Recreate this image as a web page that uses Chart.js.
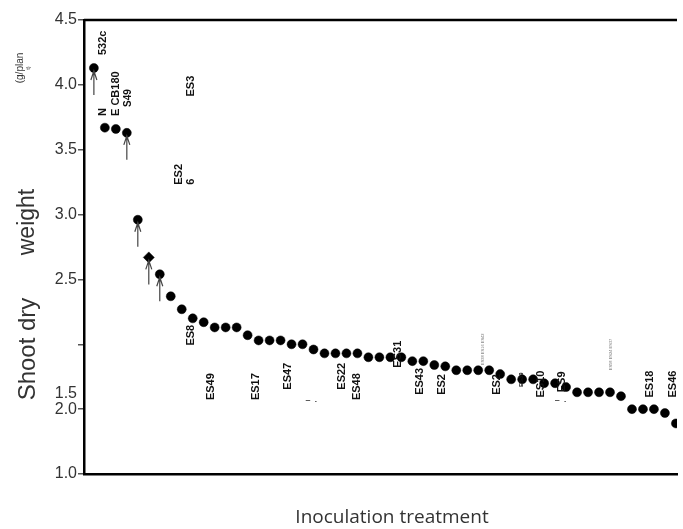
<!DOCTYPE html>
<html>
<head>
<meta charset="utf-8">
<script src="https://cdn.jsdelivr.net/npm/chart.js@4.4.1/dist/chart.umd.min.js"></script>
<style>
  html, body { margin: 0; padding: 0; background: #fff; }
  #wrap { width: 683px; height: 529px; }
</style>
</head>
<body>
<div id="wrap"><canvas id="shootChart" width="683" height="529"></canvas></div>
<script>
// shoot dry weight per inoculation treatment, ranked high to low
let shootWeight = [4.13, 3.67, 3.66, 3.63, 2.96, 2.67, 2.54, 2.37, 2.27, 2.20,
    2.17, 2.13, 2.13, 2.13, 2.07, 2.03, 2.03, 2.03, 2.00, 2.00,
    1.96, 1.93, 1.93, 1.93, 1.93, 1.90, 1.90, 1.90, 1.90, 1.87,
    1.87, 1.84, 1.83, 1.80, 1.80, 1.80, 1.80, 1.77, 1.73, 1.73,
    1.73, 1.70, 1.70, 1.67, 1.63, 1.63, 1.63, 1.63, 1.60, 1.50,
    1.50, 1.50, 1.47, 1.39];

let yTicks = [1.0, 1.5, 2.0, 2.5, 3.0, 3.5, 4.0, 4.5];
let yTickText = [['1.0'], ['1.5', '2.0', ''], [''], ['2.5'], ['3.0'], ['3.5'], ['4.0'], ['4.5']];

// treatments marked with an arrow
let arrowIdx = [0, 3, 4, 5, 6];

// strain names written next to the points
let tagText = ['532c', 'N', 'E CB180', 'S49', 'ES3', 'ES2', '6', 'ES8', 'ES49', 'ES17',
    'ES47', 'ES22', 'ES48', 'ES31', 'ES43', 'ES2', 'ES2', 'ES39', 'ES10', 'ES9', 'ES18', 'ES46'];
let tagIdx = [0.81, 0.81, 1.98, 3.15, 8.82, 7.74, 8.82, 8.82, 10.62, 14.75,
    17.63, 22.58, 23.93, 27.71, 29.69, 31.67, 36.71, 38.96, 40.67, 42.65, 50.65, 52.72];
let tagVal = [4.23, 3.76, 3.76, 3.83, 3.91, 3.23, 3.23, 1.99, 1.57, 1.57,
    1.65, 1.65, 1.57, 1.82, 1.61, 1.61, 1.61, 1.67, 1.59, 1.63, 1.59, 1.59];
let tagSize = [11, 11, 11, 10, 11, 11, 11, 11, 11, 11,
    11, 11, 11, 11, 11, 11, 11, 6, 11, 11, 11, 11];

// the very small stacked names
let tinyText = ['ES38 ES16 ES42', 'ES58 ES24 ES37'];
let tinyIdx = [35.45, 47.05];
let tinyVal = [1.84, 1.80];

let points = shootWeight.map((v, i) => ({ x: i, y: v }));
let pointShapes = shootWeight.map((v, i) => i === 5 ? 'rectRot' : 'circle');
let pointSizes = shootWeight.map((v, i) => i === 5 ? 5.5 : 4.5);

let extras = {
    id: 'extras',
    afterDatasetsDraw(chart) {
        let c = chart.ctx;
        let xs = chart.scales.x;
        let ys = chart.scales.y;
        let area = chart.chartArea;

        c.save();
        // top frame line
        c.strokeStyle = '#000';
        c.lineWidth = 2.5;
        c.beginPath();
        c.moveTo(area.left, area.top);
        c.lineTo(area.right, area.top);
        c.stroke();

        // arrows under the marked points
        c.strokeStyle = '#444';
        c.lineWidth = 1.2;
        arrowIdx.forEach(i => {
            let px = xs.getPixelForValue(i);
            let py = ys.getPixelForValue(shootWeight[i]);
            c.beginPath();
            c.moveTo(px, py + 3);
            c.lineTo(px, py + 27);
            c.moveTo(px - 3, py + 12);
            c.lineTo(px, py + 3);
            c.lineTo(px + 3, py + 12);
            c.stroke();
        });

        // rotated strain names
        c.fillStyle = '#111';
        c.textAlign = 'left';
        c.textBaseline = 'middle';
        tagText.forEach((t, k) => {
            c.save();
            c.translate(xs.getPixelForValue(tagIdx[k]), ys.getPixelForValue(tagVal[k]));
            c.rotate(-Math.PI / 2);
            c.font = 'bold ' + tagSize[k] + 'px "Liberation Sans", Arial, sans-serif';
            c.fillText(t, 0, 0);
            c.restore();
        });
        c.fillStyle = '#777';
        tinyText.forEach((t, k) => {
            c.save();
            c.translate(xs.getPixelForValue(tinyIdx[k]), ys.getPixelForValue(tinyVal[k]));
            c.rotate(-Math.PI / 2);
            c.font = '4px "Liberation Sans", Arial, sans-serif';
            c.fillText(t, 0, 0);
            c.restore();
        });

        // stray marks below a few names
        c.fillStyle = '#222';
        c.font = 'bold 8px "Liberation Sans", Arial, sans-serif';
        c.textAlign = 'center';
        c.fillText('\u2012  .', xs.getPixelForValue(19.8), ys.getPixelForValue(1.57));
        c.fillText('\u2012  .', xs.getPixelForValue(42.5), ys.getPixelForValue(1.57));

        // y title, broken over several pieces
        c.fillStyle = '#333';
        c.textAlign = 'center';
        let ytitle = [['Shoot dry', 24, 28, 349], ['weight', 23, 28, 222], ['(g/plan', 10, 20, 68], ['t)', 6, 28, 68]];
        ytitle.forEach(p => {
            c.save();
            c.translate(p[2], p[3]);
            c.rotate(-Math.PI / 2);
            c.font = p[1] + 'px "Liberation Sans", Arial, sans-serif';
            c.fillText(p[0], 0, 0);
            c.restore();
        });

        // x title
        c.font = '19px "Open Sans", sans-serif';
        c.fillText('Inoculation treatment', 392, 518);
        c.restore();
    }
};

let ctx = document.getElementById('shootChart').getContext('2d');
let shootChart = new Chart(ctx, {
    type: 'scatter',
    data: {
        datasets: [{
            data: points,
            backgroundColor: '#000',
            borderColor: '#000',
            borderWidth: 0.5,
            pointStyle: pointShapes,
            pointRadius: pointSizes,
            pointHoverRadius: pointSizes,
        }]
    },
    options: {
        responsive: false,
        animation: false,
        layout: { padding: { top: 20, right: 0, left: 0, bottom: 0 } },
        plugins: { legend: { display: false }, tooltip: { enabled: false } },
        scales: {
            x: {
                type: 'linear',
                min: -0.9,
                max: 53.1,
                grid: { display: false },
                border: { display: true, color: '#000', width: 2.5 },
                ticks: { display: false },
                afterFit(scale) { scale.height = 55; }
            },
            y: {
                min: 1.0,
                max: 4.5,
                afterBuildTicks(scale) { scale.ticks = yTicks.map(v => ({ value: v })); },
                grid: { display: true, drawOnChartArea: false, drawTicks: true, tickLength: 6, color: '#555', lineWidth: 1.5 },
                border: { display: true, color: '#000', width: 2.5 },
                ticks: {
                    color: '#333',
                    padding: 1,
                    font: { family: '"Liberation Sans", Arial, sans-serif', size: 16, lineHeight: 1 },
                    callback: (v) => yTickText[yTicks.indexOf(v)]
                },
                afterFit(scale) { scale.width = 84; }
            }
        }
    },
    plugins: [extras]
});
</script>
</body>
</html>
